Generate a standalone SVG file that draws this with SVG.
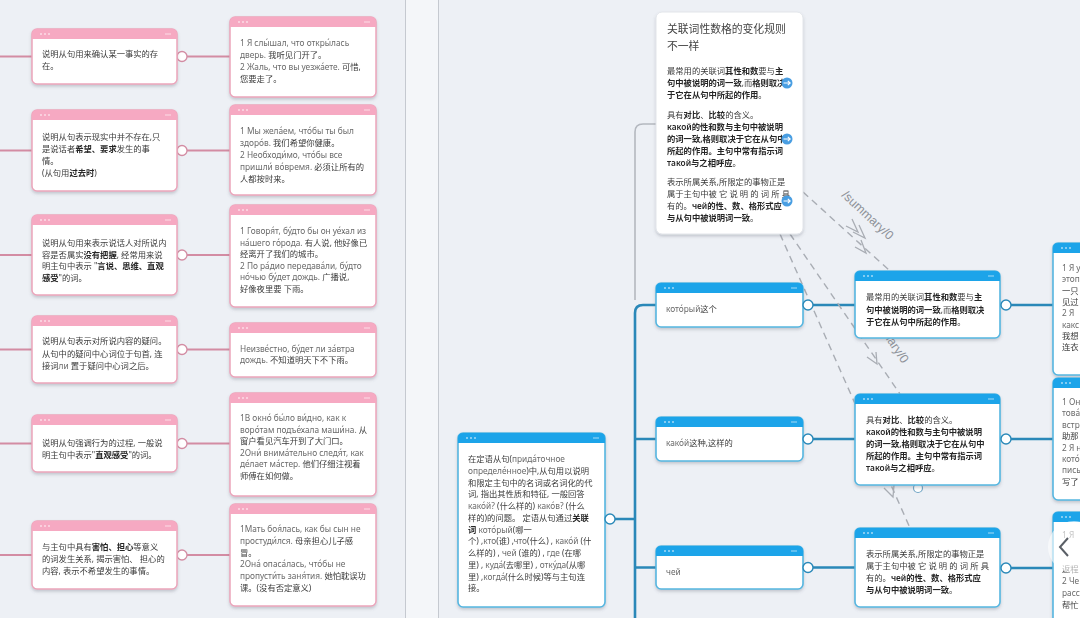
<svg xmlns="http://www.w3.org/2000/svg" width="1080" height="618" viewBox="0 0 1080 618">
<defs>
<style>
.t{font-family:"Noto Sans","Noto Sans CJK SC",sans-serif;font-size:8.3px;fill:#3a3a3a}
.ru{fill:#6a6a6a}
.b{font-weight:600;fill:#262626}
.ttl{font-family:"Noto Sans","Noto Sans CJK SC",sans-serif;font-size:10.8px;fill:#444}
.pb{fill:#fff;stroke:#eba5bb;stroke-width:1.5}
.ph{fill:#f6a9c2}
.bb{fill:#fff;stroke:#56b6e0;stroke-width:1.6}
.bh{fill:#1ea4e9}
.dot{fill:#fff;fill-opacity:.6}
.pl{stroke:#d38ca3;stroke-width:2.2;fill:none}
.pc{fill:#fff;stroke:#d38ca3;stroke-width:1.3}
.bl{stroke:#2a88b8;stroke-width:2.6;fill:none}
.bc{fill:#fff;stroke:#2a88b8;stroke-width:1.4}
.gl{stroke:#b4b8bf;stroke-width:1.6;fill:none}
.dl{stroke:#a9adb4;stroke-width:1.4;fill:none;stroke-dasharray:7 5}
.ch{stroke:#a9adb4;stroke-width:1.3;fill:none}
.lab{font-family:"Liberation Sans",sans-serif;font-size:12.5px;fill:#8e9299}
</style>
<filter id="sh" x="-10%" y="-10%" width="120%" height="130%">
<feDropShadow dx="0" dy="2" stdDeviation="1.6" flood-color="#5a6070" flood-opacity=".28"/>
</filter>
</defs>
<rect x="0" y="0" width="1080" height="618" fill="#edf0f5"/>
<rect x="405" y="0" width="33" height="618" fill="#f4f6f9"/>
<line x1="405.5" y1="0" x2="405.5" y2="618" stroke="#c5c9d0"/>
<line x1="438.5" y1="0" x2="438.5" y2="618" stroke="#c5c9d0"/>

<g id="connectors">
<path class="pl" d="M0,56.5H32M0,150.5H32M0,255H32M0,349.5H32M0,443.5H32M0,555H32"/>
<path class="pl" d="M187,56.5H230M187,150.5H230M187,255H230M187,349.5H230M187,443.5H230M187,555H230"/>
<circle class="pc" cx="182" cy="56.5" r="5"/>
<circle class="pc" cx="182" cy="150.5" r="5"/>
<circle class="pc" cx="182" cy="255" r="5"/>
<circle class="pc" cx="182" cy="349.5" r="5"/>
<circle class="pc" cx="182" cy="443.5" r="5"/>
<circle class="pc" cx="182" cy="555" r="5"/>
<path class="gl" d="M656,124H643Q635,124 635,132V300"/>
<path class="bl" d="M656,305H643Q635,305 635,313V618M635,439H656M635,567.5H656M615,519H635"/>
<path class="bl" d="M813,305H855M813,439H855M813,567.5H855M1011,305H1053M1011,439H1053M1011,568H1053"/>
<path class="dl" d="M803,192L890,271"/>
<path class="dl" d="M790,234L900,394"/>
<path class="dl" d="M780,234L910,528"/>
<path class="ch" d="M846,226L858,232L852,219M853,232L865,238L859,225"/>
<path class="ch" d="M855,247L866,253L861,240"/>
<path class="ch" d="M867,357L877,364L876,352"/>
<path class="ch" d="M884,488L893,497L894,485"/>
<text class="lab" transform="translate(841,196) rotate(43)">/summary/0</text>
<text class="lab" transform="translate(866,310) rotate(56)">/summary/0</text>
<circle cx="918" cy="488" r="4.5" fill="#fff" stroke="#6fa4c4" stroke-width="1.2"/>
</g>

<!-- pink left column -->
<g id="pl1" transform="translate(32,29)" filter="url(#sh)">
<rect class="pb" width="145" height="55" rx="5"/><path class="ph" d="M0,10V5Q0,0 5,0H140Q145,0 145,5V10Z"/>
<circle class="dot" cx="9" cy="5" r="1"/><circle class="dot" cx="13" cy="5" r="1"/><circle class="dot" cx="17" cy="5" r="1"/><rect class="dot" x="133" y="4.5" width="6" height="1"/>
<text class="t" x="10" y="28">说明从句用来确认某一事实的存</text>
<text class="t" x="10" y="40">在。</text>
</g>
<g id="pl2" transform="translate(32,110)" filter="url(#sh)">
<rect class="pb" width="145" height="81" rx="5"/><path class="ph" d="M0,10V5Q0,0 5,0H140Q145,0 145,5V10Z"/>
<circle class="dot" cx="9" cy="5" r="1"/><circle class="dot" cx="13" cy="5" r="1"/><circle class="dot" cx="17" cy="5" r="1"/><rect class="dot" x="133" y="4.5" width="6" height="1"/>
<text class="t" x="10" y="30">说明从句表示现实中并不存在,只</text>
<text class="t" x="10" y="42">是说话者<tspan class="b">希望、要求</tspan>发生的事</text>
<text class="t" x="10" y="54">情。</text>
<text class="t" x="10" y="66">(从句用<tspan class="b">过去时</tspan>)</text>
</g>
<g id="pl3" transform="translate(32,215)" filter="url(#sh)">
<rect class="pb" width="145" height="80" rx="5"/><path class="ph" d="M0,10V5Q0,0 5,0H140Q145,0 145,5V10Z"/>
<circle class="dot" cx="9" cy="5" r="1"/><circle class="dot" cx="13" cy="5" r="1"/><circle class="dot" cx="17" cy="5" r="1"/><rect class="dot" x="133" y="4.5" width="6" height="1"/>
<text class="t" x="10" y="31">说明从句用来表示说话人对所说内</text>
<text class="t" x="10" y="42.5">容是否属实<tspan class="b">没有把握</tspan>, 经常用来说</text>
<text class="t" x="10" y="54">明主句中表示 "<tspan class="b">言说、思维、直观</tspan></text>
<text class="t" x="10" y="65.5"><tspan class="b">感受</tspan>"的词。</text>
</g>
<g id="pl4" transform="translate(32,316)" filter="url(#sh)">
<rect class="pb" width="145" height="67" rx="5"/><path class="ph" d="M0,10V5Q0,0 5,0H140Q145,0 145,5V10Z"/>
<circle class="dot" cx="9" cy="5" r="1"/><circle class="dot" cx="13" cy="5" r="1"/><circle class="dot" cx="17" cy="5" r="1"/><rect class="dot" x="133" y="4.5" width="6" height="1"/>
<text class="t" x="10" y="28">说明从句表示对所说内容的疑问。</text>
<text class="t" x="10" y="40.5">从句中的疑问中心词位于句首, 连</text>
<text class="t" x="10" y="53">接词<tspan class="ru">ли</tspan> 置于疑问中心词之后。</text>
</g>
<g id="pl5" transform="translate(32,415)" filter="url(#sh)">
<rect class="pb" width="145" height="57" rx="5"/><path class="ph" d="M0,10V5Q0,0 5,0H140Q145,0 145,5V10Z"/>
<circle class="dot" cx="9" cy="5" r="1"/><circle class="dot" cx="13" cy="5" r="1"/><circle class="dot" cx="17" cy="5" r="1"/><rect class="dot" x="133" y="4.5" width="6" height="1"/>
<text class="t" x="10" y="31">说明从句强调行为的过程, 一般说</text>
<text class="t" x="10" y="42.5">明主句中表示"<tspan class="b">直观感受</tspan>"的词。</text>
</g>
<g id="pl6" transform="translate(32,521)" filter="url(#sh)">
<rect class="pb" width="145" height="68" rx="5"/><path class="ph" d="M0,10V5Q0,0 5,0H140Q145,0 145,5V10Z"/>
<circle class="dot" cx="9" cy="5" r="1"/><circle class="dot" cx="13" cy="5" r="1"/><circle class="dot" cx="17" cy="5" r="1"/><rect class="dot" x="133" y="4.5" width="6" height="1"/>
<text class="t" x="10" y="29">与主句中具有<tspan class="b">害怕、担心</tspan>等意义</text>
<text class="t" x="10" y="41">的词发生关系, 揭示害怕、 担心的</text>
<text class="t" x="10" y="53">内容, 表示不希望发生的事情。</text>
</g>

<!-- pink right column -->
<g id="pr1" transform="translate(230,17)" filter="url(#sh)">
<rect class="pb" width="146" height="80" rx="5"/><path class="ph" d="M0,10V5Q0,0 5,0H141Q146,0 146,5V10Z"/>
<circle class="dot" cx="9" cy="5" r="1"/><circle class="dot" cx="13" cy="5" r="1"/><circle class="dot" cx="17" cy="5" r="1"/><rect class="dot" x="134" y="4.5" width="6" height="1"/>
<text class="t" x="10" y="29"><tspan class="ru">1 Я слы́шал, что откры́лась</tspan></text>
<text class="t" x="10" y="41"><tspan class="ru">дверь.</tspan> 我听见门开了。</text>
<text class="t" x="10" y="53"><tspan class="ru">2 Жаль, что вы уезжа́ете.</tspan> 可惜,</text>
<text class="t" x="10" y="65">您要走了。</text>
</g>
<g id="pr2" transform="translate(230,105)" filter="url(#sh)">
<rect class="pb" width="146" height="90" rx="5"/><path class="ph" d="M0,10V5Q0,0 5,0H141Q146,0 146,5V10Z"/>
<circle class="dot" cx="9" cy="5" r="1"/><circle class="dot" cx="13" cy="5" r="1"/><circle class="dot" cx="17" cy="5" r="1"/><rect class="dot" x="134" y="4.5" width="6" height="1"/>
<text class="t" x="10" y="29"><tspan class="ru">1 Мы жела́ем, что́бы ты был</tspan></text>
<text class="t" x="10" y="41"><tspan class="ru">здоро́в.</tspan> 我们希望你健康。</text>
<text class="t" x="10" y="53"><tspan class="ru">2 Необходи́мо, что́бы все</tspan></text>
<text class="t" x="10" y="65"><tspan class="ru">пришли́ во́время.</tspan> 必须让所有的</text>
<text class="t" x="10" y="76.5">人都按时来。</text>
</g>
<g id="pr3" transform="translate(230,205)" filter="url(#sh)">
<rect class="pb" width="146" height="102" rx="5"/><path class="ph" d="M0,10V5Q0,0 5,0H141Q146,0 146,5V10Z"/>
<circle class="dot" cx="9" cy="5" r="1"/><circle class="dot" cx="13" cy="5" r="1"/><circle class="dot" cx="17" cy="5" r="1"/><rect class="dot" x="134" y="4.5" width="6" height="1"/>
<text class="t" x="10" y="29"><tspan class="ru">1 Говоря́т, бу́дто бы он уе́хал из</tspan></text>
<text class="t" x="10" y="40.6"><tspan class="ru">на́шего го́рода.</tspan> 有人说, 他好像已</text>
<text class="t" x="10" y="52.2">经离开了我们的城市。</text>
<text class="t" x="10" y="63.8"><tspan class="ru">2 По ра́дио передава́ли, бу́дто</tspan></text>
<text class="t" x="10" y="75.4"><tspan class="ru">но́чью      бу́дет дождь.</tspan> 广播说,</text>
<text class="t" x="10" y="87">好像夜里要 下雨。</text>
</g>
<g id="pr4" transform="translate(230,323)" filter="url(#sh)">
<rect class="pb" width="146" height="54" rx="5"/><path class="ph" d="M0,10V5Q0,0 5,0H141Q146,0 146,5V10Z"/>
<circle class="dot" cx="9" cy="5" r="1"/><circle class="dot" cx="13" cy="5" r="1"/><circle class="dot" cx="17" cy="5" r="1"/><rect class="dot" x="134" y="4.5" width="6" height="1"/>
<text class="t" x="10" y="28.5"><tspan class="ru">Неизве́стно, бу́дет ли за́втра</tspan></text>
<text class="t" x="10" y="40"><tspan class="ru">дождь.</tspan> 不知道明天下不下雨。</text>
</g>
<g id="pr5" transform="translate(230,393)" filter="url(#sh)">
<rect class="pb" width="146" height="103" rx="5"/><path class="ph" d="M0,10V5Q0,0 5,0H141Q146,0 146,5V10Z"/>
<circle class="dot" cx="9" cy="5" r="1"/><circle class="dot" cx="13" cy="5" r="1"/><circle class="dot" cx="17" cy="5" r="1"/><rect class="dot" x="134" y="4.5" width="6" height="1"/>
<text class="t" x="10" y="28"><tspan class="ru">1В окно́ бы́ло ви́дно, как к</tspan></text>
<text class="t" x="10" y="39.6"><tspan class="ru">воро́там подъе́хала маши́на.</tspan> 从</text>
<text class="t" x="10" y="51.2">窗户看见汽车开到了大门口。</text>
<text class="t" x="10" y="62.8"><tspan class="ru">2Они́ внима́тельно следя́т, как</tspan></text>
<text class="t" x="10" y="74.4"><tspan class="ru">де́лает ма́стер.</tspan> 他们仔细注视着</text>
<text class="t" x="10" y="86">师傅在如何做。</text>
</g>
<g id="pr6" transform="translate(230,504)" filter="url(#sh)">
<rect class="pb" width="146" height="102" rx="5"/><path class="ph" d="M0,10V5Q0,0 5,0H141Q146,0 146,5V10Z"/>
<circle class="dot" cx="9" cy="5" r="1"/><circle class="dot" cx="13" cy="5" r="1"/><circle class="dot" cx="17" cy="5" r="1"/><rect class="dot" x="134" y="4.5" width="6" height="1"/>
<text class="t" x="10" y="28"><tspan class="ru">1Мать боя́лась, как бы сын не</tspan></text>
<text class="t" x="10" y="39.8"><tspan class="ru">простуди́лся.</tspan> 母亲担心儿子感</text>
<text class="t" x="10" y="51.6">冒。</text>
<text class="t" x="10" y="63.4"><tspan class="ru">2Она́ опаса́лась, что́бы не</tspan></text>
<text class="t" x="10" y="75.2"><tspan class="ru">пропусти́ть заня́тия.</tspan> 她怕耽误功</text>
<text class="t" x="10" y="87">课。(没有否定意义)</text>
</g>

<!-- right panel -->
<g id="summary" transform="translate(656,12)" filter="url(#sh)">
<rect width="147" height="222" rx="6" fill="#fff" stroke="#e2e5ea" stroke-width="1"/>
<text class="ttl" x="11" y="21">关联词性数格的变化规则</text>
<text class="ttl" x="11" y="38">不一样</text>
<text class="t" x="11" y="62">最常用的关联词<tspan class="b">其性和数</tspan>要与<tspan class="b">主</tspan></text>
<text class="t" x="11" y="74"><tspan class="b">句中被说明的词一致</tspan>,而<tspan class="b">格则取决</tspan></text>
<text class="t" x="11" y="86"><tspan class="b">于它在从句中所起的作用</tspan>。</text>
<text class="t" x="11" y="106">具有<tspan class="b">对比</tspan>、<tspan class="b">比较</tspan>的含义。</text>
<text class="t" x="11" y="118"><tspan class="b">какой</tspan><tspan class="b">的性和数与主句中被说明</tspan></text>
<text class="t" x="11" y="130"><tspan class="b">的词一致,格则取决于它在从句中</tspan></text>
<text class="t" x="11" y="142"><tspan class="b">所起的作用。主句中常有指示词</tspan></text>
<text class="t" x="11" y="154"><tspan class="b">такой</tspan><tspan class="b">与之相呼应</tspan>。</text>
<text class="t" x="11" y="173">表示所属关系,所限定的事物正是</text>
<text class="t" x="11" y="185">属于主句中被 它 说 明 的 词 所 具</text>
<text class="t" x="11" y="197">有的。<tspan class="b">чей</tspan><tspan class="b">的性、数、格形式应</tspan></text>
<text class="t" x="11" y="209"><tspan class="b">与从句中被说明词一致</tspan>。</text>
<circle cx="131" cy="71" r="5.5" fill="#4a9ee2"/><path d="M127.5,71H134M131.8,68.8L134.2,71L131.8,73.2" stroke="#fff" stroke-width="1.1" fill="none"/>
<circle cx="131" cy="127" r="5.5" fill="#4a9ee2"/><path d="M127.5,127H134M131.8,124.8L134.2,127L131.8,129.2" stroke="#fff" stroke-width="1.1" fill="none"/>
<circle cx="131" cy="189" r="5.5" fill="#4a9ee2"/><path d="M127.5,189H134M131.8,186.8L134.2,189L131.8,191.2" stroke="#fff" stroke-width="1.1" fill="none"/>
</g>

<g id="root" transform="translate(458,433)" filter="url(#sh)">
<rect class="bb" width="147" height="174" rx="5"/><path class="bh" d="M0,10V5Q0,0 5,0H142Q147,0 147,5V10Z"/>
<circle class="dot" cx="9" cy="5" r="1"/><circle class="dot" cx="13" cy="5" r="1"/><circle class="dot" cx="17" cy="5" r="1"/><rect class="dot" x="135" y="4.5" width="6" height="1"/>
<text class="t" x="10" y="29">在定语从句(<tspan class="ru">прида́точное</tspan></text>
<text class="t" x="10" y="40.75"><tspan class="ru">определе́нное</tspan>)中,从句用以说明</text>
<text class="t" x="10" y="52.5">和限定主句中的名词或名词化的代</text>
<text class="t" x="10" y="64.25">词, 指出其性质和特征, 一般回答</text>
<text class="t" x="10" y="76"><tspan class="ru">како́й?</tspan> (什么样的) <tspan class="ru">како́в?</tspan> (什么</text>
<text class="t" x="10" y="87.75">样的)的问题。 定语从句通过<tspan class="b">关联</tspan></text>
<text class="t" x="10" y="99.5"><tspan class="b">词</tspan> <tspan class="ru">кото́рый</tspan>(哪一</text>
<text class="t" x="10" y="111.25">个) ,<tspan class="ru">кто</tspan>(谁) ,<tspan class="ru">что</tspan>(什么) , <tspan class="ru">како́й</tspan> (什</text>
<text class="t" x="10" y="123">么样的) , <tspan class="ru">чей</tspan> (谁的) , <tspan class="ru">где</tspan> (在哪</text>
<text class="t" x="10" y="134.75">里) , <tspan class="ru">куда́</tspan>(去哪里) , <tspan class="ru">отку́да</tspan>(从哪</text>
<text class="t" x="10" y="146.5">里) ,<tspan class="ru">когда́</tspan>(什么时候)等与主句连</text>
<text class="t" x="10" y="158.25">接。</text>
</g>
<circle class="bc" cx="610" cy="519" r="5"/>

<g id="m1" transform="translate(656,283)" filter="url(#sh)">
<rect class="bb" width="147" height="44" rx="5"/><path class="bh" d="M0,10V5Q0,0 5,0H142Q147,0 147,5V10Z"/>
<circle class="dot" cx="9" cy="5" r="1"/><circle class="dot" cx="13" cy="5" r="1"/><circle class="dot" cx="17" cy="5" r="1"/><rect class="dot" x="135" y="4.5" width="6" height="1"/>
<text class="t" x="10" y="29"><tspan class="ru">кото́рый</tspan>这个</text>
</g>
<g id="m2" transform="translate(656,417)" filter="url(#sh)">
<rect class="bb" width="147" height="44" rx="5"/><path class="bh" d="M0,10V5Q0,0 5,0H142Q147,0 147,5V10Z"/>
<circle class="dot" cx="9" cy="5" r="1"/><circle class="dot" cx="13" cy="5" r="1"/><circle class="dot" cx="17" cy="5" r="1"/><rect class="dot" x="135" y="4.5" width="6" height="1"/>
<text class="t" x="10" y="29"><tspan class="ru">како́й</tspan>这种,这样的</text>
</g>
<g id="m3" transform="translate(656,546)" filter="url(#sh)">
<rect class="bb" width="147" height="43" rx="5"/><path class="bh" d="M0,10V5Q0,0 5,0H142Q147,0 147,5V10Z"/>
<circle class="dot" cx="9" cy="5" r="1"/><circle class="dot" cx="13" cy="5" r="1"/><circle class="dot" cx="17" cy="5" r="1"/><rect class="dot" x="135" y="4.5" width="6" height="1"/>
<text class="t" x="10" y="29"><tspan class="ru">чей</tspan></text>
</g>
<circle class="bc" cx="808" cy="305" r="5"/>
<circle class="bc" cx="808" cy="439" r="5"/>
<circle class="bc" cx="808" cy="567.5" r="5"/>

<g id="n1" transform="translate(855,271)" filter="url(#sh)">
<rect class="bb" width="145" height="67" rx="5"/><path class="bh" d="M0,10V5Q0,0 5,0H140Q145,0 145,5V10Z"/>
<circle class="dot" cx="9" cy="5" r="1"/><circle class="dot" cx="13" cy="5" r="1"/><circle class="dot" cx="17" cy="5" r="1"/><rect class="dot" x="133" y="4.5" width="6" height="1"/>
<text class="t" x="11" y="29">最常用的关联词<tspan class="b">其性和数</tspan>要与<tspan class="b">主</tspan></text>
<text class="t" x="11" y="41.5"><tspan class="b">句中被说明的词一致</tspan>,而<tspan class="b">格则取决</tspan></text>
<text class="t" x="11" y="54"><tspan class="b">于它在从句中所起的作用</tspan>。</text>
</g>
<g id="n2" transform="translate(855,394)" filter="url(#sh)">
<rect class="bb" width="145" height="91" rx="5"/><path class="bh" d="M0,10V5Q0,0 5,0H140Q145,0 145,5V10Z"/>
<circle class="dot" cx="9" cy="5" r="1"/><circle class="dot" cx="13" cy="5" r="1"/><circle class="dot" cx="17" cy="5" r="1"/><rect class="dot" x="133" y="4.5" width="6" height="1"/>
<text class="t" x="11" y="29">具有<tspan class="b">对比</tspan>、<tspan class="b">比较</tspan>的含义。</text>
<text class="t" x="11" y="41"><tspan class="b">какой</tspan><tspan class="b">的性和数与主句中被说明</tspan></text>
<text class="t" x="11" y="53"><tspan class="b">的词一致,格则取决于它在从句中</tspan></text>
<text class="t" x="11" y="65"><tspan class="b">所起的作用。主句中常有指示词</tspan></text>
<text class="t" x="11" y="77"><tspan class="b">такой</tspan><tspan class="b">与之相呼应</tspan>。</text>
</g>
<g id="n3" transform="translate(855,528)" filter="url(#sh)">
<rect class="bb" width="145" height="79" rx="5"/><path class="bh" d="M0,10V5Q0,0 5,0H140Q145,0 145,5V10Z"/>
<circle class="dot" cx="9" cy="5" r="1"/><circle class="dot" cx="13" cy="5" r="1"/><circle class="dot" cx="17" cy="5" r="1"/><rect class="dot" x="133" y="4.5" width="6" height="1"/>
<text class="t" x="11" y="29">表示所属关系,所限定的事物正是</text>
<text class="t" x="11" y="41">属于主句中被 它 说 明 的 词 所 具</text>
<text class="t" x="11" y="53">有的。<tspan class="b">чей</tspan><tspan class="b">的性、数、格形式应</tspan></text>
<text class="t" x="11" y="65"><tspan class="b">与从句中被说明词一致</tspan>。</text>
</g>
<circle class="bc" cx="1006" cy="305" r="5"/>
<circle class="bc" cx="1006" cy="439" r="5"/>
<circle class="bc" cx="1006" cy="568" r="5"/>

<g id="f1" transform="translate(1053,243)" filter="url(#sh)">
<rect class="bb" width="60" height="132" rx="5"/><path class="bh" d="M0,10V5Q0,0 5,0H55Q60,0 60,5V10Z"/>
<circle class="dot" cx="9" cy="5" r="1"/><circle class="dot" cx="13" cy="5" r="1"/><circle class="dot" cx="17" cy="5" r="1"/>
<text class="t" x="9" y="28"><tspan class="ru">1 Я у</tspan></text>
<text class="t" x="9" y="39.3"><tspan class="ru">этоп</tspan></text>
<text class="t" x="9" y="50.6">一只</text>
<text class="t" x="9" y="61.9">见过</text>
<text class="t" x="9" y="73.2"><tspan class="ru">2 Я</tspan></text>
<text class="t" x="9" y="84.5"><tspan class="ru">какс</tspan></text>
<text class="t" x="9" y="95.8">我想</text>
<text class="t" x="9" y="107.1">连衣</text>
</g>
<g id="f2" transform="translate(1053,378)" filter="url(#sh)">
<rect class="bb" width="60" height="122" rx="5"/><path class="bh" d="M0,10V5Q0,0 5,0H55Q60,0 60,5V10Z"/>
<circle class="dot" cx="9" cy="5" r="1"/><circle class="dot" cx="13" cy="5" r="1"/><circle class="dot" cx="17" cy="5" r="1"/>
<text class="t" x="9" y="27"><tspan class="ru">1 Он</tspan></text>
<text class="t" x="9" y="38.4"><tspan class="ru">това́</tspan></text>
<text class="t" x="9" y="49.8"><tspan class="ru">встр</tspan></text>
<text class="t" x="9" y="61.2">助那</text>
<text class="t" x="9" y="72.6"><tspan class="ru">2 Я н</tspan></text>
<text class="t" x="9" y="84"><tspan class="ru">кото́</tspan></text>
<text class="t" x="9" y="95.4"><tspan class="ru">пись</tspan></text>
<text class="t" x="9" y="106.8">写了</text>
</g>
<g id="f3" transform="translate(1053,512)" filter="url(#sh)">
<rect class="bb" width="60" height="120" rx="5"/><path class="bh" d="M0,10V5Q0,0 5,0H55Q60,0 60,5V10Z"/>
<circle class="dot" cx="9" cy="5" r="1"/><circle class="dot" cx="13" cy="5" r="1"/><circle class="dot" cx="17" cy="5" r="1"/>
<text class="t" x="9" y="26"><tspan class="ru">1 Я</tspan></text>
<text class="t" x="9" y="60">返程</text>
<text class="t" x="9" y="72"><tspan class="ru">2 Че</tspan></text>
<text class="t" x="9" y="84"><tspan class="ru">расс</tspan></text>
<text class="t" x="9" y="96">帮忙</text>
</g>
<g id="nav">
<circle cx="1074" cy="547" r="26" fill="#fff" fill-opacity=".6"/>
<path d="M1068,538L1060,547L1068,556" stroke="#5a5f66" stroke-width="2" fill="none"/>
</g>
</svg>
